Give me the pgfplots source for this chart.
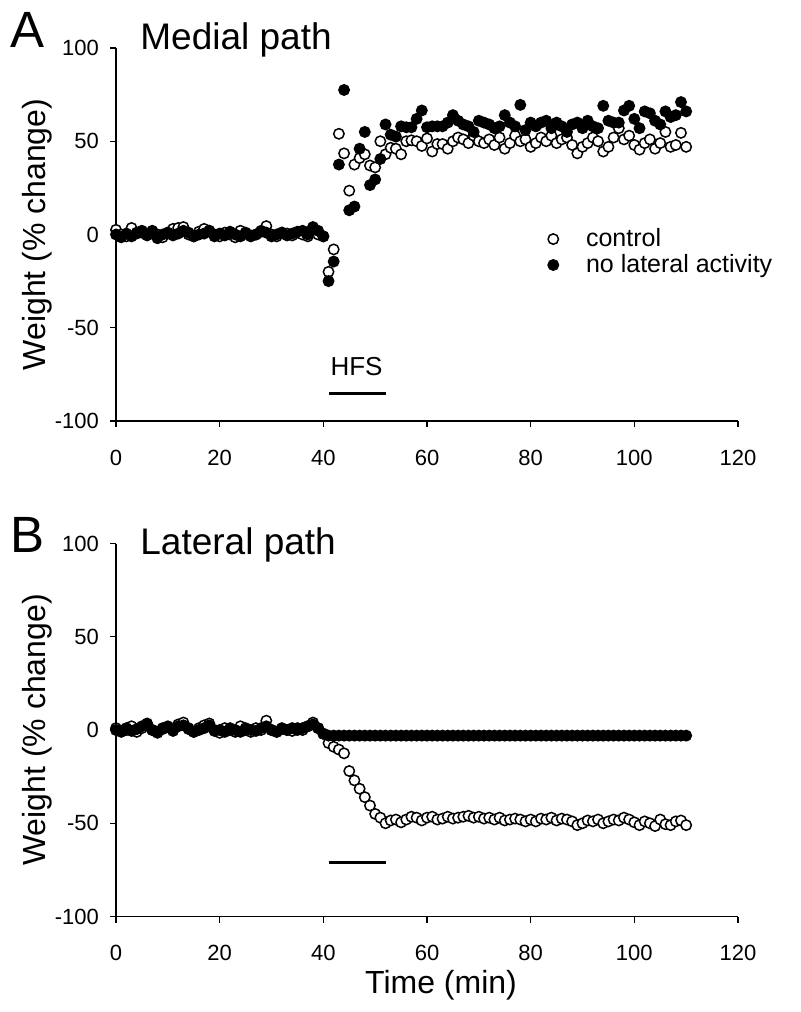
\documentclass[border=0pt]{standalone}
\usepackage{pgfplots}
\pgfplotsset{compat=1.18}
\usepackage{pgfplotstable}
\usepackage{fontspec}
\setmainfont{Liberation Sans}

% t, medial control, medial no-lateral, lateral control, lateral no-lateral
\pgfplotstableread{
t  ac    an    bc    bn
0  2.5   0     1     0
1  0     -1.5  -0.5  -1
2  -1    0.5   0     1
3  3.5   -1    2     -0.5
4  0.5   1     -1    0.5
5  1     2     1     2
6  -0.5  0     3.5   3
7  2     1.5   0     0
8  0     -2    -1.5  -1
9  -1.5  0     1     0.5
10 1     1     2     1.5
11 3     -0.5  0     -0.5
12 3.5   0.5   3     2
13 4     2     4     2.5
14 0     1     0.5   1
15 -1    -1    -1    -1
16 1.5   0     1     0
17 3     0.5   2.5   1
18 2     2     3.5   2.5
19 0     -1    0     -0.5
20 -1    0.5   -1.5  0
21 1     -0.5  1     -1
22 0     1.5   0     1
23 -1.5  0     -1    0
24 2     -1    2     -1
25 0.5   1     0     1
26 -1    -0.5  -1    0
27 0     0     1     -0.5
28 1.5   2     0     1
29 4.5   1     5     2
30 0     -1    0     0
31 -1    0     -1    -1
32 1     1     1     0.5
33 0.5   -0.5  0     0
34 -0.5  0.5   -0.5  1
35 1     1.5   1     0
36 0     2     0     1
37 -1    0     2     2
38 2     4     4     3
39 0     2     1     1
40 -1    -1    -2    -2
41 -20   -25   -7    -3
42 -8    -14.5 -9    -3
43 54    37.5  -10.5 -3
44 43.5  77.5  -12.5 -3
45 23.5  13    -22   -3
46 37.5  15    -27   -3
47 41    46    -31.5 -3
48 43    55    -36   -3
49 37    26.5  -40.5 -3
50 36    29.5  -45   -3
51 50    40.5  -47   -3
52 43    59    -50   -3
53 46.5  53.5  -48.5 -3
54 46    52.5  -48   -3
55 43    58    -49.5 -3
56 50    57.5  -48   -3
57 50.5  57.5  -46.5 -3
58 50    62    -47   -3
59 47.5  66.5  -48.5 -3
60 51.5  57.5  -47   -3
61 44.5  58    -46.5 -3
62 48.5  58    -48   -3
63 48.5  58    -47.5 -3
64 46    60    -46.5 -3
65 50    64    -47.5 -3
66 52    61    -47   -3
67 51    59    -46.5 -3
68 49    58    -46   -3
69 53    55    -47   -3
70 50    61    -46.5 -3
71 49    60    -47.5 -3
72 51    59    -47   -3
73 48    57    -48   -3
74 52    58    -47   -3
75 46    64    -48.5 -3
76 49    60    -48   -3
77 53    58    -47.5 -3
78 50    69.5  -48   -3
79 51    56    -49   -3
80 47    60    -48   -3
81 49    58    -49   -3
82 52    60    -47.5 -3
83 50    61    -48   -3
84 53    57    -47   -3
85 49    60    -48.5 -3
86 51    58    -47.5 -3
87 52    55    -48   -3
88 48    59    -49   -3
89 43.5  60    -51   -3
90 47    57    -50   -3
91 49    61    -48.5 -3
92 52    58    -49   -3
93 50    57    -48   -3
94 44.5  69    -50   -3
95 47    61    -49   -3
96 52    60    -48   -3
97 57    60    -48.5 -3
98 51    66.5  -47   -3
99 53    69    -48   -3
100 48   62    -49.5 -3
101 45.5 57    -51   -3
102 49   66    -49   -3
103 51   65    -50   -3
104 46   61    -51.5 -3
105 49   59    -48   -3
106 55   66    -50.5 -3
107 47   63    -51   -3
108 48   64    -49   -3
109 54.5 71    -48.5 -3
110 47   66    -51   -3
}\datatable

\pgfplotsset{
  panel/.style={
    scale only axis, width=311pt, height=186.5pt,
    xmin=0, xmax=120, ymin=-100, ymax=100,
    xtick={0,20,...,120}, ytick={-100,-50,0,50,100},
    axis lines*=left, axis line style={-, line width=0.6pt},
    tick align=outside, major tick length=3pt,
    tick style={black, line width=0.6pt},
    /pgf/number format/assume math mode=true,
    tick label style={font=\fontsize{11}{13}\selectfont},
    yticklabel style={xshift=-2pt},
    xticklabel style={yshift=-8pt},
    ylabel={Weight (\% change)},
    ylabel style={at={(axis description cs:-0.127,0.5)}, anchor=center,
      font=\fontsize{16}{19}\selectfont},
    clip=false,
  },
  ctl/.style={only marks, mark=*, mark size=2.6pt,
    mark options={draw=black, fill=white, line width=0.75pt}},
  nla/.style={only marks, mark=*, mark size=2.6pt,
    mark options={draw=black, fill=black, line width=0.75pt}},
}

\begin{document}
\begin{tikzpicture}
\useasboundingbox (0,0) rectangle (400.5pt,-506pt);

\begin{axis}[panel, at={(58pt,-210.5pt)}, anchor=south west,
  legend style={draw=none, fill=none, at={(axis cs:84.4,-9.4)}, anchor=west,
    xshift=-11.5pt, font=\fontsize{12.5}{14}\selectfont,
    nodes={inner sep=1.2pt}, row sep=0pt},
  legend cell align=left,
  legend image code/.code={\path (0pt,-2pt) (23pt,2pt);
    \draw[#1] plot coordinates {(8pt,0pt)};}]
\addplot[ctl] table[x=t,y=ac] {\datatable};
\addplot[nla] table[x=t,y=an] {\datatable};
\addplot[black, line width=1.5pt, forget plot] coordinates {(41,-85.5) (52,-85.5)};
\node[font=\fontsize{13}{15}\selectfont] at (axis cs:46.4,-71) {HFS};
\legend{control, no lateral activity}
\end{axis}

\begin{axis}[panel, at={(58pt,-458.25pt)}, anchor=south west,
  xlabel={Time (min)},
  xlabel style={at={(axis description cs:0.5225,-0.1836)}, anchor=center,
    font=\fontsize{16}{19}\selectfont}]
\addplot[ctl] table[x=t,y=bc] {\datatable};
\addplot[nla] table[x=t,y=bn] {\datatable};
\addplot[black, line width=1.5pt] coordinates {(41,-71) (52,-71)};
\end{axis}

\node[anchor=base west, inner sep=0pt, font=\fontsize{25.5}{28}\selectfont] at (5pt,-23.5pt) {A};
\node[anchor=base west, inner sep=0pt, font=\fontsize{18.5}{21}\selectfont] at (70pt,-24.5pt) {Medial path};
\node[anchor=base west, inner sep=0pt, font=\fontsize{25.5}{28}\selectfont] at (5pt,-276pt) {B};
\node[anchor=base west, inner sep=0pt, font=\fontsize{18.5}{21}\selectfont] at (70pt,-277pt) {Lateral path};
\end{tikzpicture}
\end{document}
